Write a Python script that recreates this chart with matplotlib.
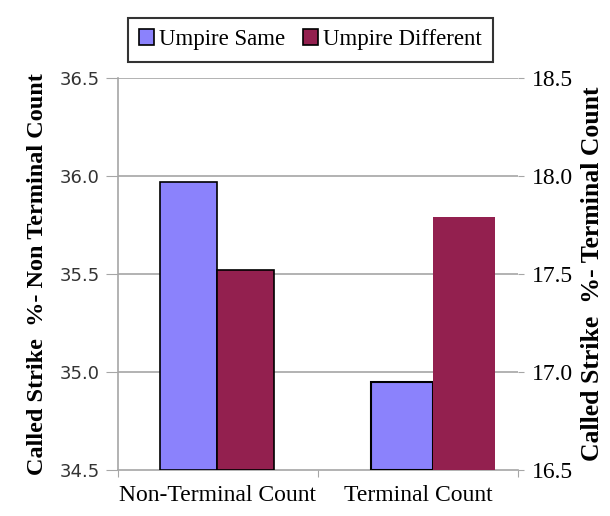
import matplotlib.pyplot as plt
import matplotlib

matplotlib.rcParams['font.family'] = 'Liberation Serif'

categories = ["Non-Terminal Count", "Terminal Count"]
series = ["Umpire Same", "Umpire Different"]
same = [35.97, 16.95]
different = [35.52, 17.79]
left_ticks = [34.5, 35.0, 35.5, 36.0, 36.5]
right_ticks = [16.5, 17.0, 17.5, 18.0, 18.5]

c_same = "#8b82fc"
c_diff = "#93204f"
grid_c = "#a6a6a6"

fig = plt.figure(figsize=(6.10, 5.16), dpi=100)
ax = fig.add_axes([0.193, 0.089, 0.656, 0.76])
ax2 = ax.twinx()

ax.set_xlim(0, 2)
ax.set_ylim(left_ticks[0], left_ticks[-1])
ax2.set_ylim(right_ticks[0], right_ticks[-1])

# non-terminal on the primary axis, terminal on the secondary axis
w1 = 0.285
x1 = 0.495
b1 = ax.bar(x1 - w1 / 2, same[0] - left_ticks[0], w1, bottom=left_ticks[0],
            color=c_same, edgecolor="black", linewidth=1.2, zorder=3)
b2 = ax.bar(x1 + w1 / 2, different[0] - left_ticks[0], w1, bottom=left_ticks[0],
            color=c_diff, edgecolor="black", linewidth=1.2, zorder=3)
w2 = 0.31
x2 = 1.575
ax2.bar(x2 - w2 / 2, same[1] - right_ticks[0], w2, bottom=right_ticks[0],
        color=c_same, edgecolor="black", linewidth=1.5, zorder=3)
ax2.bar(x2 + w2 / 2, different[1] - right_ticks[0], w2, bottom=right_ticks[0],
        color=c_diff, edgecolor="none", zorder=3)

ax.set_yticks(left_ticks)
ax.set_yticklabels(["%.1f" % t for t in left_ticks], family="DejaVu Sans",
                   fontsize=13, color="#333333")
ax2.set_yticks(right_ticks)
ax2.set_yticklabels(["%.1f" % t for t in right_ticks], fontsize=17)
for t in left_ticks[1:]:
    ax.axhline(t, color=grid_c, linewidth=1.2, zorder=1)

ax.set_xticks([0, 1, 2])
ax.set_xticklabels([])
ax.set_xticks([0.5, 1.5], minor=True)
ax.set_xticklabels(categories, minor=True, fontsize=17)
ax.tick_params(axis="x", which="minor", length=0, pad=11)
ax.tick_params(axis="x", which="major", length=5, color=grid_c)
ax.tick_params(axis="y", length=9, color=grid_c, pad=4)
ax2.tick_params(axis="y", length=4, color=grid_c, pad=6)

for s in ["top", "right"]:
    ax.spines[s].set_visible(False)
for s in ["top", "right", "left", "bottom"]:
    ax2.spines[s].set_visible(False)
ax.spines["left"].set_color(grid_c)
ax.spines["bottom"].set_color(grid_c)
ax.spines["left"].set_linewidth(1.2)
ax.spines["bottom"].set_linewidth(1.2)

ax.set_ylabel("Called Strike  %- Non Terminal Count", fontsize=17.5,
              fontweight="bold", labelpad=8)
ax2.set_ylabel("Called Strike  %- Terminal Count", fontsize=18.5,
               fontweight="bold", labelpad=6)

leg = fig.legend([b1, b2], series, loc="upper center",
                 bbox_to_anchor=(0.509, 0.988), ncol=2, fontsize=16.5,
                 frameon=True, fancybox=False, handlelength=0.65,
                 handleheight=0.65, handletextpad=0.2, columnspacing=0.8,
                 borderpad=0.5)
leg.get_frame().set_edgecolor("black")
leg.get_frame().set_linewidth(1.5)

fig.savefig("out.png", dpi=100)
